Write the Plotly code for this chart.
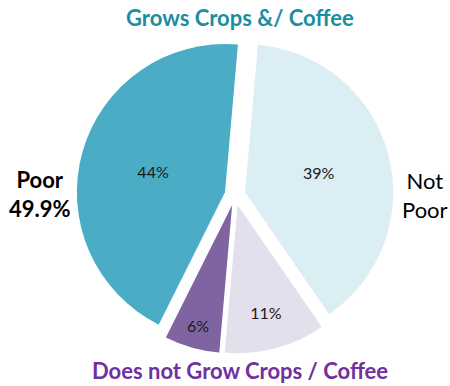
import plotly.graph_objects as go

labels = ["Grows, Not Poor", "No Crops, Not Poor", "No Crops, Poor", "Grows, Poor"]
values = [39, 11, 6, 44]
colors = ["#DAEEF3", "#E4DFEC", "#8064A2", "#4BACC6"]
pulls = [0.07, 0.07, 0.07, 0.07]

cx, cy, size = 235, 195, 317

fig = go.Figure(go.Pie(
    labels=labels,
    values=values,
    sort=False,
    direction="clockwise",
    rotation=5,
    pull=pulls,
    marker=dict(colors=colors, line=dict(width=0)),
    texttemplate="%{value}%",
    textposition="inside",
    insidetextorientation="horizontal",
    textfont=dict(family="Lato, Open Sans, sans-serif", size=16, color="#1a1a1a"),
    hoverinfo="label+value",
    domain=dict(x=[(cx - size/2)/450, (cx + size/2)/450],
                y=[1 - (cy + size/2)/386, 1 - (cy - size/2)/386]),
    showlegend=False,
))

font = "Lato, Open Sans, sans-serif"
def ann(x, y, text, color):
    fig.add_annotation(x=x/450, y=1-y/386, xref="paper", yref="paper", showarrow=False,
                       xanchor="center", yanchor="middle", text=text,
                       font=dict(family=font, size=22, color=color))

ann(240, 18, "<b>Grows Crops &/ Coffee</b>", "#1B8EA2")
ann(240, 370, "<b>Does not Grow Crops / Coffee</b>", "#7030A0")
ann(40, 194, "<b>Poor<br>49.9%</b>", "#000000")
ann(425, 195, "Not<br>Poor", "#000000")

fig.update_layout(width=450, height=386, margin=dict(l=0, r=0, t=0, b=0),
                  paper_bgcolor="white", plot_bgcolor="white")
fig.write_html("out.html", config={"displayModeBar": False},
               post_script="document.body.style.margin='0';")
